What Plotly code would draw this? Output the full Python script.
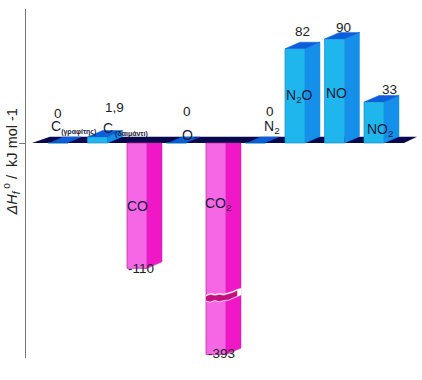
import numpy as np
import plotly.graph_objects as go

# Categories in drawing order
species = ["C_graphite", "C_diamond", "CO", "O2", "CO2", "N2", "N2O", "NO", "NO2"]
small = '<sub><span style="font-size:7px"><b>%s</b></span></sub>'
formula_labels = ["C" + small % "(γραφίτης)", "C" + small % " (δαιμάντι)", "CO", "O<sub>2</sub>", "CO<sub>2</sub>",
                  "N<sub>2</sub>", "N<sub>2</sub>O", "NO", "NO<sub>2</sub>"]
value_labels = ["0", "1,9", "-110", "0", "-393", "0", "82", "90", "33"]
# Heights as drawn: the reference is schematic (CO2 broken, diamond exaggerated)
drawn_heights = [0, 5.2, -109, 0, -184, 0, 82, 90.5, 35.6]

PX_X = 39.5   # px per category
PX_Y = 1.15   # px per y unit
DX = 15 / PX_X
DY = 6.5 / PX_Y
W = 20 / PX_X
x = np.arange(len(species))
h = np.array(drawn_heights, float)

POS = dict(front="#1fb6ee", side="#1590ea", top="#0d5edb", edge="#1490c4")
NEG = dict(front="#f667e6", side="#f018c6", edge="#c020a8")
NAVY = "#08084e"

fig = go.Figure()

def poly(xs, ys, color, line=None):
    fig.add_trace(go.Scatter(x=xs, y=ys, mode="lines", fill="toself", fillcolor=color,
                             line=dict(color=line or color, width=0.5), hoverinfo="skip", showlegend=False))

# Front faces
colors = [NEG["front"] if v < 0 else POS["front"] for v in h]
edges = [NEG["edge"] if v < 0 else POS["edge"] for v in h]
fig.add_trace(go.Bar(x=x, y=h, width=W, marker=dict(color=colors, line=dict(color=edges, width=0.7)),
                     showlegend=False, hoverinfo="skip"))

# Side and top faces
for xi, v in zip(x, h):
    l, r = xi - W / 2, xi + W / 2
    if v > 0:
        poly([r, r + DX, r + DX, r], [0, DY, v + DY, v], POS["side"])
        poly([l, l + DX, r + DX, r], [v, v + DY, v + DY, v], POS["top"])
    elif v < 0:
        poly([r, r + DX, r + DX, r], [0, 0, v + DY, v], NEG["side"], NEG["edge"])
    else:
        poly([l + 0.08, l + DX, r + DX - 0.05, r], [0.5, DY - 0.5, DY - 0.5, 0.5], POS["top"])

# Break across the CO2 bar
i = species.index("CO2")
brk = -135
l, r = x[i] - W / 2, x[i] + W / 2 + DX
jag_x = np.linspace(l, r + 0.01, 9)
jag_up = np.array([1.5, 3.0, 2.2, 3.0, 2.5, 3.6, 4.6, 6.4, 7.6])
jag_lo = np.array([-2.0, -2.8, -1.4, -2.6, -1.6, -1.4, 0.4, 2.2, 3.6])
poly(list(jag_x) + list(jag_x[::-1]), list(brk + jag_up + 1.2) + list((brk + jag_lo - 0.6)[::-1]), "#ffffff")
poly(list(jag_x[:8]) + list(jag_x[:8][::-1]), list(brk + jag_up[:8]) + list((brk + jag_lo[:8])[::-1]), "#c2107e")

# Platform under the baseline (below all traces)
x0, x1 = -0.66, 8.76
platform = f"M {x0},0 L {x0 + 18 / PX_X},{6.2 / PX_Y} L {x1 + 0.33},{6.2 / PX_Y} L {x1},0 Z"
shapes = [dict(type="path", path=platform, xref="x", yref="y", fillcolor=NAVY, line=dict(width=0), layer="below")]

top_px, bottom_px, left_px = 9, 358, 26
baseline_px = 143

def paper_y(py):
    return (bottom_px - (baseline_px - py)) / (bottom_px - top_px)

FONT = "Liberation Sans"
ann = []
# label placement: (offset from category in category units, height above baseline in px)
value_place = [(0.0, 39), (0.42, 45), (0.1, -135), (0.27, 41), (0.15, -220), (0.36, 41), (0.2, 121), (0.24, 125), (0.38, 63)]
formula_place = [(0.4, 16), (0.72, 25), (0.0, -63), (0.34, 18), (0.05, -61), (0.42, 16), (0.12, 58), (0.05, 60), (0.15, 24)]
for xi, lab, (dx_, py) in zip(x, value_labels, value_place):
    ann.append(dict(x=xi + dx_, y=paper_y(py), yref="paper", text=lab, showarrow=False,
                    font=dict(family=FONT, size=13.5, color="#222222")))
for xi, lab, (dx_, py) in zip(x, formula_labels, formula_place):
    ann.append(dict(x=xi + dx_, y=paper_y(py), yref="paper", text=lab, showarrow=False,
                    font=dict(family=FONT, size=14, color="#1a1a3a")))

ann.append(dict(xref="paper", yref="paper", x=(11 - 26) / 396, xanchor="center", y=paper_y(36),
                text="<i>ΔH<sub>f</sub></i><sup> o</sup> /  kJ mol -1",
                textangle=-90, showarrow=False, font=dict(family=FONT, size=14.5, color="#222222")))

# Pixel-aligned axes
fig.update_layout(
    width=422, height=380, margin=dict(l=left_px, r=0, t=top_px, b=380 - bottom_px, autoexpand=False),
    paper_bgcolor="white", plot_bgcolor="white", barmode="overlay", showlegend=False,
    shapes=shapes, annotations=ann,
    xaxis=dict(range=[(left_px - 58) / PX_X, (422 - 58) / PX_X], visible=False),
    yaxis=dict(range=[(baseline_px - bottom_px) / PX_Y, (baseline_px - top_px) / PX_Y], showgrid=False, zeroline=False,
               showline=True, linecolor="#777777", linewidth=1, ticks="outside", ticklen=6, tickcolor="#777777",
               tickvals=[0], showticklabels=False),
)
fig.write_html("out.html", config=dict(displayModeBar=False),
               post_script="document.body.style.margin='0';document.body.style.overflow='hidden';")
